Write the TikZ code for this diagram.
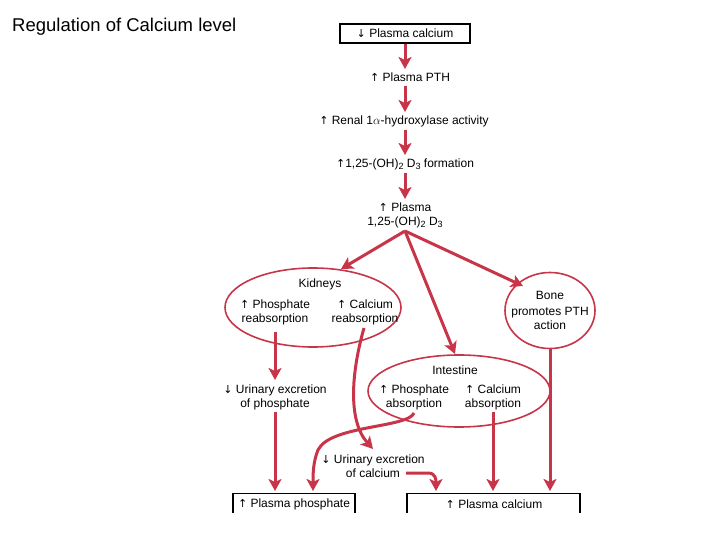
\documentclass[tikz,border=0pt]{standalone}
\usepackage{fontspec}
\setmainfont{Liberation Sans}
\newfontfamily\symf{DejaVu Sans}
\usetikzlibrary{arrows.meta,shapes.geometric}
\definecolor{cred}{RGB}{200,52,72}
\newcommand{\up}{{\symf\fontsize{11}{12}\selectfont↑}}
\newcommand{\dn}{{\symf\fontsize{11}{12}\selectfont↓}}
\newcommand{\sbs}[1]{\raisebox{-2.5pt}{\fontsize{9}{10}\selectfont #1}}
\begin{document}
\begin{tikzpicture}[x=1pt,y=-1pt,
  every node/.style={font=\fontsize{12}{14}\selectfont, inner sep=0pt, align=center},
  flow/.style={draw=cred, line width=3pt, -{Stealth[length=12pt,width=13pt,inset=3pt]}},
  oval/.style={draw=cred, line width=1.6pt, ellipse},
  box/.style={draw=black, line width=1.1pt}]
\useasboundingbox (0,0) rectangle (720,540);
\node[anchor=west, font=\fontsize{18.5}{21}\selectfont] (title) at (12,27) {Regulation of Calcium level};

\node[box, minimum width=130pt, minimum height=19pt] (b1) at (405,33.5) {\dn\ Plasma calcium};
\node (pth) at (410,77) {\up\ Plasma PTH};
\node (ren) at (404,121) {\up\ Renal 1$\alpha$-hydroxylase activity};
\node (form) at (405,164) {\up1,25-(OH)\sbs{2} D\sbs{3} formation};
\node (pl) at (405,215) {\up\ Plasma\\1,25-(OH)\sbs{2} D\sbs{3}};
\coordinate (br) at (405,231);

\draw[flow] (405,44) -- (405,69);
\draw[flow] (405,86) -- (405,112);
\draw[flow] (405,130) -- (405,155);
\draw[flow] (405,173) -- (405,199);

% ellipses
\node[oval, minimum width=176pt, minimum height=79pt] (kid) at (313,307.5) {};
\node (kidl) at (320,284) {Kidneys};
\node (kph) at (275,312) {\up\ Phosphate\\reabsorption};
\node (kca) at (365,312) {\up\ Calcium\\reabsorption};

\node[oval, minimum width=182pt, minimum height=72pt] (int) at (459,391) {};
\node (intl) at (455,370) {Intestine};
\node (iph) at (414,397) {\up\ Phosphate\\absorption};
\node (ica) at (493,397) {\up\ Calcium\\absorption};

\node[oval, minimum width=90pt, minimum height=76pt] (bone) at (550,310.5) {};
\node (bonel) at (550,310) {Bone\\[2pt]promotes PTH\\action};

\draw[flow] (br) -- (341,269);
\draw[flow] (br) -- (455,354);
\draw[flow] (br) -- (523,286);

% urinary excretion
\node (uph) at (275,397) {\dn\ Urinary excretion\\of phosphate};
\node (uca) at (373,466) {\dn\ Urinary excretion\\of calcium};

% bottom boxes
\node (pp) at (294,504) {\up\ Plasma phosphate};
\node (pc) at (494,504) {\up\ Plasma calcium};
\draw[box] (233,513) -- (233,493.5) -- (355,493.5) -- (355,513);
\draw[box] (407,513) -- (407,493.5) -- (580,493.5) -- (580,513);

\draw[flow] (275,332) -- (275,380);
\draw[flow] (275,412) -- (275,491);
\draw[flow] (364,328) .. controls (352,370) and (347,420) .. (373,449);
\draw[flow] (414,413) .. controls (408,428) and (330,425) .. (318,450) .. controls (313,462) and (313,475) .. (313,491);
\draw[flow] (493,412) -- (493,491);
\draw[flow] (550,349) -- (550,491);
\draw[flow] (406,473) -- (428,473) .. controls (436,473) and (436,480) .. (436,491);
\end{tikzpicture}
\end{document}
